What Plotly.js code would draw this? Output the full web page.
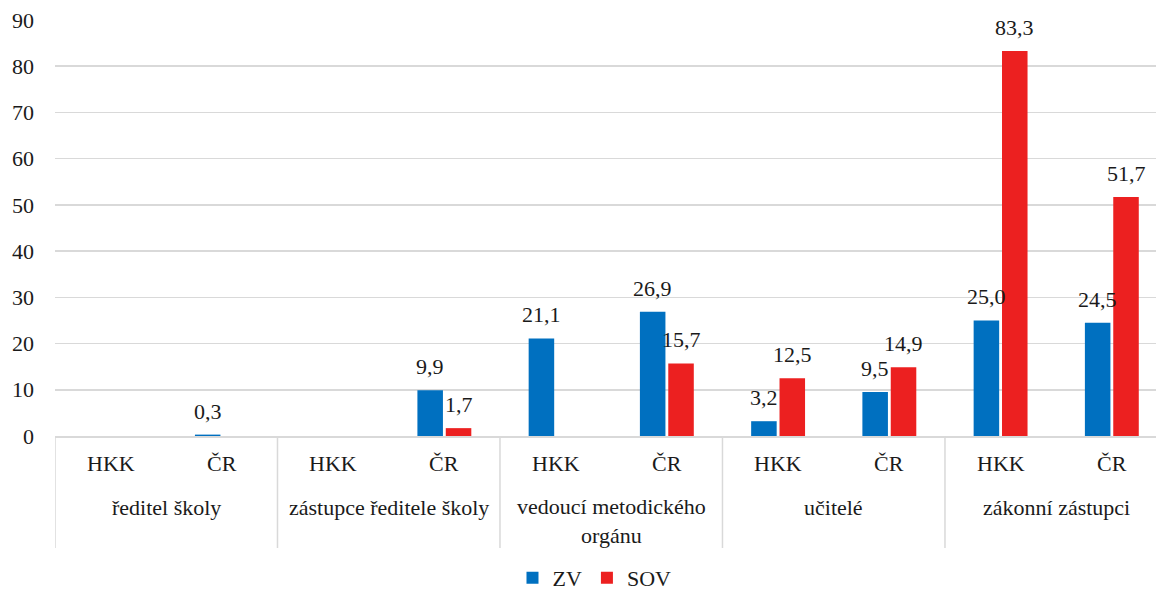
<!DOCTYPE html>
<html>
<head>
<meta charset="utf-8">
<script src="https://cdn.plot.ly/plotly-3.0.1.min.js"></script>
<style>html,body{margin:0;padding:0;background:#fff;}#chart{width:1156px;height:590px;}
#fontwarm{position:absolute;left:0;top:0;font-family:'Liberation Serif';font-size:22px;color:#fff;z-index:-1;}</style>
</head>
<body>
<div id="fontwarm">HKK ČR ředitel školy 0123456789,</div>
<div id="chart"></div>
<script>
var groups = ['ředitel školy', 'zástupce ředitele školy', 'vedoucí metodického<br>orgánu', 'učitelé', 'zákonní zástupci'];
var regions = ['HKK', 'ČR'];
var zv  = [null, 0.3, null, 9.9, 21.1, 26.9, 3.2, 9.5, 25.0, 24.5];
var sov = [null, null, null, 1.7, null, 15.7, 12.5, 14.9, 83.3, 51.7];
var seriesNames = ['ZV', 'SOV'];
var seriesColors = ['#0070C0', '#EC2020'];
var yTicks = [0, 10, 20, 30, 40, 50, 60, 70, 80, 90];

var xLevel1 = [], xLevel2 = [];
groups.forEach(function (g) { regions.forEach(function (r) { xLevel1.push(g); xLevel2.push(r); }); });

var FONT = 'Liberation Serif';
var TXT = '#1a1a1a';
var PLOT_H = 416;
function py(px) { return -px / PLOT_H; } // pixels below the x axis -> paper y

function buildTraces() {
  return [zv, sov].map(function (vals, i) {
    return {
      type: 'bar', name: seriesNames[i], x: [xLevel1, xLevel2], y: vals,
      marker: { color: seriesColors[i] }, hoverinfo: 'skip'
    };
  });
}

function buildLayout() {
  var annotations = [];
  [zv, sov].forEach(function (vals, s) {
    vals.forEach(function (v, idx) {
      if (v === null) return;
      annotations.push({
        x: idx, y: v, xref: 'x', yref: 'y',
        text: v.toFixed(1).replace('.', ','),
        showarrow: false, yanchor: 'bottom', xanchor: 'center',
        xshift: s === 0 ? -14.2 : 14.2, yshift: 9,
        font: { family: FONT, size: 22, color: TXT }
      });
    });
  });
  xLevel2.forEach(function (r, idx) {
    annotations.push({
      x: idx, y: py(27.5), xref: 'x', yref: 'paper', text: r, showarrow: false,
      xanchor: 'center', yanchor: 'middle', font: { family: FONT, size: 22, color: TXT }
    });
  });
  groups.forEach(function (g, gi) {
    var lines = g.split('<br>').length;
    annotations.push({
      x: gi * 2 + 0.5, y: py(71 + (lines - 1) * 13.5), xref: 'x', yref: 'paper', text: g, showarrow: false,
      xanchor: 'center', yanchor: 'middle', font: { family: FONT, size: 22, color: TXT }
    });
  });

  var shapes = [];
  for (var gi = 0; gi < groups.length; gi++) {
    shapes.push({
      type: 'line', xref: 'x', yref: 'paper', x0: gi * 2 - 0.5, x1: gi * 2 - 0.5, y0: 0, y1: py(112),
      line: { color: '#d9d9d9', width: 1.5 }
    });
  }

  return {
    width: 1156, height: 590,
    margin: { l: 55, r: 0, t: 20, b: 154, autoexpand: false },
    paper_bgcolor: '#fff', plot_bgcolor: '#fff',
    barmode: 'group', bargap: 0.49, bargroupgap: 0.1,
    font: { family: FONT, size: 22, color: TXT },
    showlegend: true,
    legend: { orientation: 'h', x: 0.49, xanchor: 'center', y: -0.341, yanchor: 'middle', yref: 'paper',
              font: { family: FONT, size: 22, color: TXT }, traceorder: 'normal' },
    xaxis: {
      type: 'multicategory', range: [-0.5, 9.397], automargin: false,
      showline: true, linecolor: '#d9d9d9', linewidth: 1.5,
      showdividers: false, showticklabels: false,
      ticks: '', showgrid: false, zeroline: false
    },
    yaxis: {
      range: [0, 90], tickvals: yTicks, ticktext: yTicks.map(String), automargin: false,
      showgrid: true, gridcolor: '#d9d9d9', gridwidth: 1.5,
      zeroline: false, showline: false, ticks: '', ticklabelstandoff: 20,
      tickfont: { family: FONT, size: 22, color: TXT }
    },
    annotations: annotations,
    shapes: shapes
  };
}

function draw() {
  return Plotly.newPlot('chart', buildTraces(), buildLayout(), { staticPlot: true });
}

draw().then(function () {
  var redraw = function () { Plotly.purge('chart'); draw(); };
  if (document.fonts && document.fonts.load) {
    document.fonts.load('22px "Liberation Serif"', 'HKK ČR').then(redraw, redraw);
  }
  setTimeout(redraw, 200);
});
</script>
</body>
</html>
